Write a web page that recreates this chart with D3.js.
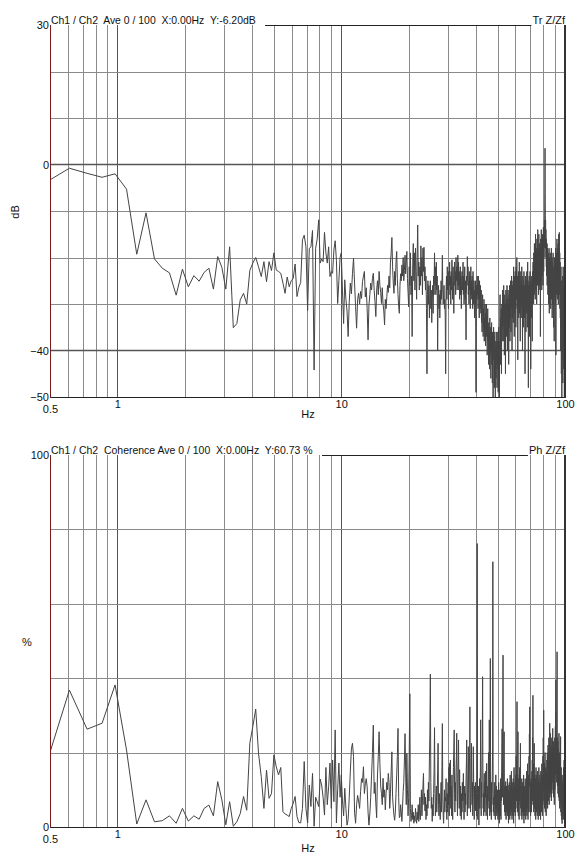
<!DOCTYPE html>
<html><head><meta charset="utf-8">
<script src="https://cdn.jsdelivr.net/npm/d3@7"></script>
<style>
body{margin:0;background:#fff}
svg{display:block}
text{font-family:"Liberation Sans",Arial,sans-serif;font-size:11px;fill:#111}
</style>
</head><body>
<svg id="c" width="584" height="856"></svg>
<script>
// ---------- DATA ----------
const binWidth = 0.1220703125;            // Hz per FFT bin
const bandStartBins = [4, 41, 82, 164, 410];

// Transfer function (dB), bands by start bin
const dbBand1 = [-3.6,-0.8,-1.9,-2.75,-2.0,-5.3,-19.3,-10.4,-20.3,-22.3,-23.3,-28.1,-22.5,-26.3,-23.9,-25.1,-23.2,-22.3,-26.8,-19.8,-22.1,-26.8,-17.7,-35.1,-34.2,-29.1,-27.7,-30.0,-22.8,-21.2,-20.0,-22.0,-24.1,-20.9,-25.2,-20.9,-22.8];
const dbBand2 = [-19.0,-22.7,-23.0,-23.4,-25.5,-27.7,-24.2,-26.3,-25.0,-24.5,-21.4,-28.4,-26.4,-25.4,-16.2,-15.2,-17.7,-31.4,-18.1,-17.7,-14.2,-44.2,-18.0,-16.0,-11.9,-21.2,-20.3,-20.9,-14.6,-19.0,-21.2,-17.7,-24.1,-23.0,-23.4,-18.4,-16.4,-20.6,-29.9,-25.0,-20.0];
const dbBand3 = [
 -19.0,-27.0,-34.2,-24.8,-29.0,-31.5,-37.0,-29.5,-25.5,-27.8,
 -23.5,-20.2,-25.5,-30.5,-35.2,-29.0,-27.7,-30.0,-27.3,-28.8,
 -25.2,-24.0,-23.0,-28.5,-26.5,-31.0,-37.7,-30.2,-28.0,-25.5,
 -27.0,-24.5,-23.4,-27.0,-29.5,-32.7,-27.0,-25.0,-28.0,-23.0,
 -26.0,-27.5,-29.9,-26.5,-30.0,-31.5,-34.5,-29.0,-31.0,-28.4,
 -26.0,-27.5,-24.0,-26.5,-21.0,-19.0,-15.7,-22.0,-25.5,-27.7,
 -23.0,-26.0,-21.0,-18.7,-24.5,-28.0,-30.5,-32.0,-26.0,-23.5,
 -25.0,-21.6,-24.0,-20.0,-25.0,-22.8,-19.5,-23.5,-21.0,-18.7,
 -24.5,-27.5];
const dbBand4 = [
 -30.6,-22,-26,-19,-28,-24,-37,-21,-17,-25,
 -19,-27,-18,-23,-29,-20,-13,-24,-21,-27,
 -22,-26,-17.5,-24,-20,-28,-18,-23,-17.8,-25,
 -22,-27,-24,-31,-45,-28,-25,-30,-26,-33,
 -28,-25,-31,-27,-34,-29,-26,-32,-24,-28,
 -19,-26,-22,-28,-21,-27,-24,-40,-29,-26,
 -31,-28,-33,-27,-30,-25,-29,-26,-19.5,-27,
 -30,-28,-26,-31,-29,-33,-45,-27,-24,-29,
 -22,-27,-25,-31,-23,-26,-21,-28,-24,-30,
 -23,-27,-20.5,-26,-29,-22,-25,-32,-24,-21,
 -26,-23,-28,-20,-25,-22,-27,-24,-19.5,-26,
 -21,-27,-23,-29,-25,-22,-28,-24,-31,-26,
 -23,-27,-25,-21,-28,-24,-30,-26,-22,-29,
 -25,-31,-37.7,-28,-24,-26,-19.8,-25,-22,-28,
 -25,-30,-23,-27,-24,-31,-26,-22,-28,-25,
 -29,-24,-27,-31,-23,-26,-30,-25,-28,-33,
 -27,-30,-25,-35,-49,-30,-26,-29,-24,-28,
 -26,-31,-24,-29,-27,-33,-25,-28,-31,-26,
 -29,-32,-27,-34,-30,-36,-31,-28,-33,-37,
 -31,-35,-29,-38,-33,-36,-30,-34,-39,-32,
 -35,-30,-37,-33,-41,-34,-31,-38,-35,-43,
 -34,-39,-36,-44,-33,-38,-41,-35,-46,-37,
 -40,-34,-43,-38,-47,-36,-41,-50,-39,-35,
 -42,-37,-48,-40,-36,-44,-50,-41,-38,-46,
 -39,-43,-36,-48,-42,-38];
const dbBand5 = [
 -44,-36,-49,-40,-35,-46,-38,-50,-41,-34,
 -28,-37,-43,-33,-39,-31,-45,-36,-30,-38,
 -33,-27,-35,-29,-38,-31,-26,-34,-30,-41,
 -32,-28,-36,-30,-45,-33,-27,-31,-37,-29,
 -34,-26,-31,-40,-29,-33,-27,-36,-30,-43,
 -31,-28,-35,-26,-32,-38,-29,-33,-25,-30,
 -36,-27,-31,-24,-29,-40,-28,-33,-26,-30,
 -25,-34,-28,-22,-31,-27,-37,-29,-24,-32,
 -27,-23,-30,-26,-35,-28,-22,-29,-25,-20,
 -27,-31,-24,-29,-42,-26,-30,-23,-28,-33,
 -25,-29,-21,-27,-32,-24,-28,-38,-26,-30,
 -23,-28,-33,-25,-29,-22,-27,-31,-26,-40,
 -28,-24,-30,-27,-35,-25,-29,-23,-31,-27,
 -33,-26,-30,-45,-28,-24,-31,-27,-36,-29,
 -25,-32,-28,-23,-30,-26,-35,-27,-21,-29,
 -25,-31,-48,-30,-26,-33,-28,-24,-37,-29,
 -26,-31,-23,-28,-34,-27,-44,-30,-25,-29,
 -33,-27,-24,-30,-26,-38,-28,-23,-29,-25,
 -21,-27,-24,-30,-19,-25,-22,-28,-17,-24,
 -21,-26,-19,-29,-23,-15,-22,-27,-20,-25,
 -18,-23,-30,-21,-16,-24,-19,-26,-22,-14,
 -21,-25,-18,-23,-28,-20,-15,-22,-19,-26,
 -17,-23,-20,-27,-18,-24,-37,-21,-16,-23,
 -19,-25,-14,-22,-18,-27,-20,-16,-24,-19,
 -22,-15,-20,-26,-17,-21,-13.5,-19,-23,-16,
 -20,-14,-18,-12,-16,-10,-5,3.5,-6,-11,
 -15,-12,-18,-14,-20,-16,-22,-17,-24,-19,
 -23,-17,-26,-21,-18,-25,-20,-28,-22,-19,
 -26,-23,-30,-21,-25,-18,-24,-32,-22,-27,
 -20,-25,-29,-23,-19,-26,-22,-31,-24,-21,
 -27,-23,-18,-25,-29,-22,-26,-20,-33,-24,
 -21,-27,-25,-30,-22,-19,-26,-23,-35,-25,
 -28,-22,-26,-38,-24,-20,-27,-23,-29,-25,
 -21,-26,-30,-24,-18,-25,-41,-27,-22,-28,
 -24,-19,-26,-23,-16,-25,-21,-29,-24,-18,
 -25,-22,-28,-17,-24,-30,-21,-26,-15,-23,
 -27,-20,-25,-14.6,-22,-28,-19,-24,-31,-21,
 -26,-33,-23,-29,-40,-27,-22,-35,-28,-45,
 -30,-25,-38,-50,-32,-27,-42,-29,-36,-24,
 -31,-47,-28,-35,-22,-30,-39,-26,-33,-44,
 -29,-24,-34,-28,-50,-31,-26,-37,-30,-33];

// Coherence (%), same bands
const cohBand1 = [18.1,36.8,26.3,27.9,38.2,20.7,0.8,7.3,1.4,1.7,3.0,1.0,5.0,1.6,3.0,2.1,5.0,5.9,3.0,12.2,7.3,0.6,6.8,0.2,1.4,3.6,8.2,4.5,22.5,27.0,31.7,19.8,13.5,5.0,15.3,7.7,9.0];
const cohBand2 = [19.4,16.2,14.0,16.0,4.1,3.5,3.2,2.8,5.0,6.3,8.2,2.8,1.2,1.1,5.0,17.6,5.0,1.1,11.3,5.5,14.4,0.2,8.0,6.8,5.5,12.9,11.3,8.0,3.2,16.0,6.0,10.8,17.2,5.0,18.0,6.8,26.1,1.1,10.0,17.2,8.0];
const cohBand3 = [
 14.0,7.0,3.0,10.4,5.0,0.5,2.0,8.0,15.0,21.0,
 22.5,19.0,4.0,1.0,6.0,8.5,7.0,5.0,9.5,13.0,
 12.0,16.2,9.0,11.6,13.0,10.8,4.0,0.5,3.5,8.0,
 14.0,20.0,27.4,9.0,12.0,6.3,2.5,14.0,19.0,25.6,
 17.0,11.0,9.0,6.0,13.1,8.0,10.0,4.6,9.0,12.0,
 10.0,14.4,12.0,5.0,9.0,15.0,20.2,8.0,5.4,3.0,
 1.8,4.0,9.0,14.0,19.0,26.5,8.0,2.5,2.7,6.0,
 4.0,1.5,5.4,9.5,12.0,18.0,25.1,15.0,6.0,19.8,
 10.0,3.0];
const cohBand4 = [
 8,20,35.8,5,1.5,3,6,2,4,1,
 3,1.5,5,2.5,1,4,2,6,1.5,3.5,
 8,2,5,10,3,7,11,14.4,6,9,
 4.3,8,2,6,3,10,5,12,7,18,
 25,41.1,12,5,8,1.5,6,3,9,15,
 26.7,9,3,7,11,4,8,15,22.5,6,
 3,9,5,2,7,12,4,16,27.8,8,
 3,1,6,10,4,8,7,13,5,2,
 9,4,12,6,16,3,17.1,8,18,5,
 11,3,14,7,2,10,16,21,26.1,9,
 4,12,7,15,19,25.2,8,3,13,18,
 23.4,10,5,15.4,8,3,11,6,2,9,
 4,12,7,10,14.4,5,2,8,11,4,
 9,6,13,17,23.4,7,3,10,15,21.6,
 9,5,14,20,32.3,11,4,8,15,22.5,
 10,6,12,3,9,21.6,13,7,2,11,
 5,8,12,4.3,10,6,3,15,76.2,9,
 2,7,11,4,0.5,8,13,5,10,16,
 28.8,6,3,12,8,19,25,40.4,14,5,
 9,3,11,14.4,7,4,12,8,15,10,
 3,13,17.1,6,9,2,11,7,14,20,
 12,5,28.8,9,3,14,45.3,10,4,8,
 2,12,6,9,15,22,71.3,11,4,8,
 8,3,12,6,10,6,2,9,14,5,
 7,11,3,8,4,10];
const cohBand5 = [
 6,2,9,4,12,3,7,1,10,5,
 8,3,13,6,2,11,7,15,20,26.4,
 8,12,25,46.2,14,6,10,18,25.6,9,
 4,11,7,3,9,12.2,5,2,8,11,
 4,9.5,6,13,3,8,11.3,5,1,7,
 10,4,12,6,2,9,14,5,8,3,
 11,6,15,4,9,2,12,7,10,3,
 8,13,5,1,9,16,6,11,4,7,
 12,3,8,14,5,10,19,7,12,22,
 33.7,9,4,11,17,25.6,8,3,13,6,
 10,2,14,7,16,9,12,18,22.5,8,
 5,11,3,9,6,13,2,9.9,4,8,
 12,5,10,3,7,14,6,1,9,4,
 11,6.3,3,8,13,5,10,2,7,12,
 4,9,15,6,3,11,8,17,5,10,
 2,12,7,14,4,9,19,11,25,16,
 32.3,9,4,12,7,3,10,5.4,13,8,
 4,11,6,15,9,18,7,24,12,35.4,
 14,6,10,17,4,12,8,22.5,11,5,
 9,14,3,11.6,7,13,2,10,16,6,
 12,4,9,14,7,11,3,15,8,10,
 5,13,2,9,12,6,16,4,10,7,
 11,3,14,8,5,12,8,2,10,15,
 6,11,4,13,9,17,5,12,8,3,
 10,14,6,19,9,24,12,18,31.4,13,
 7,15,10,17.1,5,12,8,20,11,4,
 14,9,16,6,12,3,10,15,6.3,11,
 18,8,13,20,10,5,15,9,22,12,
 17,7,19,11,24,14,6,16,21,10,
 27.9,15,8,18,25.2,12,20,9,16,22,
 11,18,7,21,14,24,10,17,13,20,
 15,22,26.5,12,19,9,17.1,23,14,8,
 18,11,21,15,6,19,13,24,10,17,
 22,14,27,18,31,20,39.5,16,23,12,
 19,25,14,21,30,47.1,18,24,11,20,
 16,23,9,19,13,21,8,17,12,22,
 25.2,14,7,18,11,20,5,15,9,17,
 12,6,19,24.3,10,4,14,8,16,3,
 11,6,13,2,9,0.9,7,12,4,10,
 3,8,14,5,11,2,9,16,6,12,
 4,10,18,7,13,3,9,20,11,15.3];

// Axis / grid values
const freqMinorGrid = [0.6,0.7,0.8,0.9,2,3,4,5,6,7,8,9,20,30,40,50,60,70,80,90];
const freqMajorGrid = [1,10];
const freqTickLabels = [1,10,100];
const freqFirstLabel = [0.5];
const dbGrid = [20,10,-10,-20,-30];
const dbStrongGrid = [0,-40];
const dbTickLabels = [30,0,-40,-50];
const cohGrid = [20,40,60,80];
const cohTickLabels = [100,0];

function assemble(bands){
  const pts = [];
  bands.forEach((vals,b)=>vals.forEach((v,i)=>pts.push({f:(bandStartBins[b]+i)*binWidth, v})));
  return pts;
}
const dbData  = assemble([dbBand1,dbBand2,dbBand3,dbBand4,dbBand5]);
const cohData = assemble([cohBand1,cohBand2,cohBand3,cohBand4,cohBand5]);

// ---------- DRAW ----------
const svg = d3.select("#c");
const L = 50, R = 565;
const x = d3.scaleLog().domain([0.5,100]).range([L,R]);

function panel(o){
  const y = d3.scaleLinear().domain(o.domain).range([o.bottom,o.top]);
  const g = svg.append("g");
  const id = "clip"+o.top;
  svg.append("clipPath").attr("id",id).append("rect")
     .attr("x",L).attr("y",o.top).attr("width",R-L).attr("height",o.bottom-o.top);

  // vertical grid
  g.selectAll(null).data(freqMinorGrid).enter().append("line")
    .attr("x1",d=>Math.round(x(d))+0.5).attr("x2",d=>Math.round(x(d))+0.5)
    .attr("y1",o.top).attr("y2",o.bottom).attr("stroke","#8a8a8a").attr("stroke-width",1);
  g.selectAll(null).data(freqMajorGrid).enter().append("line")
    .attr("x1",d=>Math.round(x(d))+0.5).attr("x2",d=>Math.round(x(d))+0.5)
    .attr("y1",o.top).attr("y2",o.bottom).attr("stroke","#555").attr("stroke-width",1);
  // horizontal grid
  g.selectAll(null).data(o.grid).enter().append("line")
    .attr("x1",L).attr("x2",R).attr("y1",d=>Math.round(y(d))+0.5).attr("y2",d=>Math.round(y(d))+0.5)
    .attr("stroke","#8a8a8a").attr("stroke-width",1);
  g.selectAll(null).data(o.strong).enter().append("line")
    .attr("x1",L).attr("x2",R).attr("y1",d=>y(d)).attr("y2",d=>y(d))
    .attr("stroke","#555").attr("stroke-width",1.6);

  // data line
  const line = d3.line().x(d=>x(d.f)).y(d=>y(d.v));
  g.append("path").datum(o.data).attr("d",line).attr("clip-path",`url(#${id})`)
    .attr("fill","none").attr("stroke","#444").attr("stroke-width",1).attr("stroke-linejoin","round");

  // frame
  g.append("line").attr("x1",L).attr("x2",R).attr("y1",o.bottom+0.5).attr("y2",o.bottom+0.5).attr("stroke","#222");
  g.append("line").attr("x1",R).attr("x2",R).attr("y1",o.top).attr("y2",o.bottom+1).attr("stroke","#333").attr("stroke-width",2);
  g.append("line").attr("x1",L+0.5).attr("x2",L+0.5).attr("y1",o.top).attr("y2",o.bottom+1).attr("stroke","#7a1a1a");

  // y tick labels
  const ya = g.append("g").attr("transform",`translate(${L},0)`)
    .call(d3.axisLeft(y).tickValues(o.ticks).tickSize(0).tickPadding(1).tickFormat(d3.format("d")));
  ya.select(".domain").remove();

  // x tick labels
  const xa = g.append("g").attr("transform",`translate(0,${o.bottom})`)
    .call(d3.axisBottom(x).tickValues(freqTickLabels).tickSize(0).tickPadding(3).tickFormat(d3.format("d")));
  xa.select(".domain").remove();
  const xa2 = g.append("g").attr("transform",`translate(0,${o.bottom})`)
    .call(d3.axisBottom(x).tickValues(freqFirstLabel).tickSize(0).tickPadding(8).tickFormat(d3.format(".1f")));
  xa2.select(".domain").remove();
  g.selectAll(".tick text").style("font-family","'Liberation Sans',Arial,sans-serif").style("font-size","11px").attr("fill","#111");

  g.append("text").attr("x",308).attr("y",o.hzY).attr("text-anchor","middle").text("Hz");

  // titles
  const t = g.append("text").attr("x",L+1).attr("y",o.top-1.5).style("white-space","pre").text(o.title);
  const w = t.node().getComputedTextLength();
  t.style("font-size",(11*o.titleW/w)+"px");
  const rl = g.append("text").attr("x",R).attr("y",o.top-1.5).attr("text-anchor","end").text(o.right);
  const rw = rl.node().getComputedTextLength();
  g.append("line").attr("x1",L+1+o.titleW+9).attr("x2",R-rw-1)
    .attr("y1",o.top+0.5).attr("y2",o.top+0.5).attr("stroke","#222");

  // axis name
  const nm = g.append("text").attr("text-anchor","middle").attr("dy","0.35em").attr("fill","#111").text(o.name);
  if (o.rotate) nm.attr("transform",`translate(${o.nameX},${o.nameY}) rotate(-90)`);
  else nm.attr("x",o.nameX).attr("y",o.nameY);
}

panel({top:25,bottom:397,domain:[-50,30],grid:dbGrid,strong:dbStrongGrid,ticks:dbTickLabels,data:dbData,
  title:"Ch1 / Ch2  Ave 0 / 100  X:0.00Hz  Y:-6.20dB",titleW:205,right:"Tr Z/Zf",hzY:418,
  name:"dB",nameX:15,nameY:212,rotate:true});
panel({top:455,bottom:827,domain:[0,100],grid:cohGrid,strong:[],ticks:cohTickLabels,data:cohData,
  title:"Ch1 / Ch2  Coherence Ave 0 / 100  X:0.00Hz  Y:60.73 %",titleW:262,right:"Ph Z/Zf",hzY:852,
  name:"%",nameX:27,nameY:642,rotate:false});
</script>
</body></html>
